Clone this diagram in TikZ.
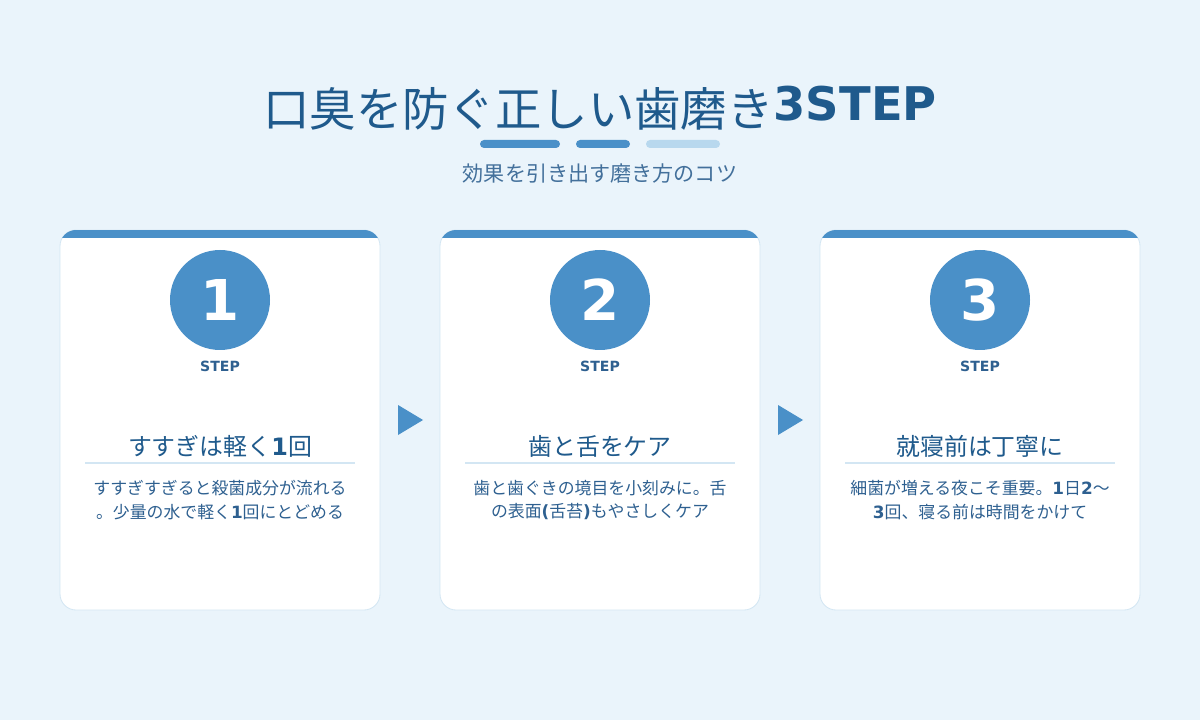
\documentclass[tikz,border=0pt]{standalone}
\usepackage{fontspec}
\setmainfont{DejaVu Sans}
\newfontfamily\cjk{Noto Sans CJK JP}
\definecolor{bg}{HTML}{EAF4FB}
\definecolor{mainb}{HTML}{4A90C8}
\definecolor{darkb}{HTML}{1F5A8C}
\definecolor{midb}{HTML}{2E6090}
\definecolor{lightb}{HTML}{B8D8EE}
\definecolor{edgeb}{HTML}{D3E6F3}
\begin{document}
\begin{tikzpicture}[x=0.025cm,y=-0.025cm,
  card/.style={draw=edgeb,line width=0.6pt,fill=white,rounded corners=16*0.025cm},
  numc/.style={circle,fill=mainb,minimum size=100*0.025cm,inner sep=0,text=white,font=\fontsize{40}{40}\selectfont\bfseries},
  steplbl/.style={text=midb,font=\fontsize{10}{10}\selectfont\bfseries},
  head/.style={text=darkb,font=\fontsize{17}{17}\selectfont\cjk},
  body/.style={text=midb,font=\fontsize{12}{17}\selectfont\cjk,align=center},
  arr/.style={fill=mainb}]
\fill[bg] (0,0) rectangle (1200,720);
\node[text=darkb,inner sep=0] (title) at (600,108) {\fontsize{33}{33}\selectfont{\cjk 口臭を防ぐ正しい歯磨き}\raisebox{4pt}{\bfseries 3STEP}};
\fill[mainb,rounded corners=4*0.025cm] (480,140) rectangle (560,148);
\fill[mainb,rounded corners=4*0.025cm] (576,140) rectangle (630,148);
\fill[lightb,rounded corners=4*0.025cm] (646,140) rectangle (720,148);
\node[text=midb!90!white,font=\fontsize{15}{15}\selectfont\cjk] (sub) at (600,173) {効果を引き出す磨き方のコツ};
\foreach \i/\x/\h/\la/\lb in {
 1/220/{すすぎは軽く{\normalfont\bfseries 1}回}/{すすぎすぎると殺菌成分が流れる}/{。少量の水で軽く{\normalfont\bfseries 1}回にとどめる},
 2/600/{歯と舌をケア}/{歯と歯ぐきの境目を小刻みに。舌}/{の表面{\normalfont\bfseries (}舌苔{\normalfont\bfseries )}もやさしくケア},
 3/980/{就寝前は丁寧に}/{細菌が増える夜こそ重要。{\normalfont\bfseries 1}日{\normalfont\bfseries 2}〜}/{{\normalfont\bfseries 3}回、寝る前は時間をかけて}}{
 \draw[card] (\x-160,230) rectangle (\x+160,610);
 \begin{scope}
 \clip[rounded corners=16*0.025cm] (\x-160,230) rectangle (\x+160,300);
 \fill[mainb] (\x-160,230) rectangle (\x+160,238);
 \end{scope}
 \node[numc] (c\i) at (\x,300) {\i};
 \node[steplbl] (s\i) at (\x,366) {STEP};
 \node[head] (h\i) at (\x,446) {\h};
 \draw[edgeb,line width=1pt] (\x-135,463) -- (\x+135,463);
 \node[body] (b\i) at (\x,500) {\la\\\lb};
}
\fill[arr] (398,405) -- (423,420) -- (398,435) -- cycle;
\fill[arr] (778,405) -- (803,420) -- (778,435) -- cycle;
\end{tikzpicture}
\end{document}
